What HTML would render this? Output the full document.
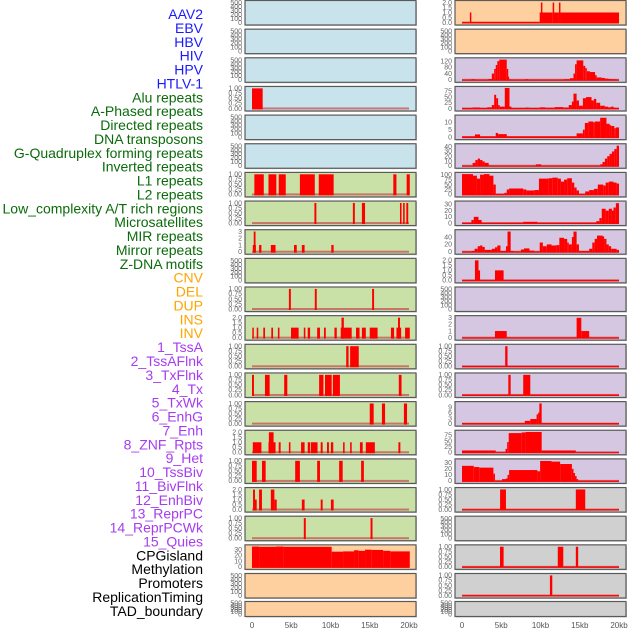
<!DOCTYPE html>
<html><head><meta charset="utf-8">
<style>
html,body{margin:0;padding:0;background:#fff;}
body{width:630px;height:630px;overflow:hidden;position:relative;font-family:"Liberation Sans",sans-serif;}
svg{position:absolute;left:0;top:0;}
</style></head>
<body>
<svg id="chart" width="630" height="630" viewBox="0 0 630 630"></svg>
<script>
// ---------- labels ----------
const labelNames = ["AAV2","EBV","HBV","HIV","HPV","HTLV-1","Alu repeats","A-Phased repeats","Directed repeats","DNA transposons","G-Quadruplex forming repeats","Inverted repeats","L1 repeats","L2 repeats","Low_complexity A/T rich regions","Microsatellites","MIR repeats","Mirror repeats","Z-DNA motifs","CNV","DEL","DUP","INS","INV","1_TssA","2_TssAFlnk","3_TxFlnk","4_Tx","5_TxWk","6_EnhG","7_Enh","8_ZNF_Rpts","9_Het","10_TssBiv","11_BivFlnk","12_EnhBiv","13_ReprPC","14_ReprPCWk","15_Quies","CPGisland","Methylation","Promoters","ReplicationTiming","TAD_boundary"];
const labelGroups = [0,0,0,0,0,0,1,1,1,1,1,1,1,1,1,1,1,1,1,2,2,2,2,2,3,3,3,3,3,3,3,3,3,3,3,3,3,3,3,4,4,4,4,4];
const xTickValues = [0,5,10,15,20];
const xTickLabels = ["0","5kb","10kb","15kb","20kb"];

// ---------- y tick sets ----------
const ticksEmpty = ["0","100","200","300","400","500"];
const ticksUnit = ["0.00","0.25","0.50","0.75","1.00"];
const ticksTwo = ["0.0","0.5","1.0","1.5","2.0"];

// ---------- left-column data: blocks [startKb, endKb, value] ----------
const leftAlu = [[0,1.36,1]];
const leftL1 = [[0.3,1.5,1],[2.1,3.1,1],[3.4,4.3,1],[6.1,8.0,1],[8.5,10.4,1],[18.0,18.4,1],[19.7,20.1,1]];
const leftLowComplexity = [[7.95,8.2,1],[12.85,13.1,1],[14.0,14.4,1],[18.85,19.05,1],[19.25,19.45,1],[19.66,19.9,1]];
const leftMicrosat = [[0.1,0.5,1],[0.22,0.45,3],[0.9,1.2,1],[2.4,3.0,1],[5.35,5.7,1],[6.35,6.7,1],[10.1,10.4,1]];
const leftZDNA = [[4.7,4.95,1],[8.0,8.25,1],[15.3,15.55,1]];
const leftCNV = [[0.04,0.21,1],[0.6,0.8,1],[1.44,1.66,1],[2.46,2.68,1],[3.3,3.5,1],[4.97,5.94,1],[6.6,6.8,1],[7.1,7.4,1],[8.3,8.66,1],[9.17,9.4,1],[10.5,10.8,1],[11.3,12.7,1],[13.25,13.7,1],[14.0,14.5,1],[15.0,16.0,1],[17.7,18.1,1],[18.4,19.0,1],[19.5,20.1,1],[11.4,11.7,2],[18.6,18.85,2]];
const leftDUP = [[12.0,12.3,1],[12.5,13.6,1]];
const leftINS = [[0,0.25,1],[1.65,2.25,1],[4.1,4.5,1],[8.55,9.1,1],[9.3,10.15,1],[10.3,11.2,1],[18.7,19.05,1]];
const leftINV = [[15.0,15.5,1],[16.55,16.95,1],[19.35,19.75,1]];
const leftTssA = [[0.1,1.2,1],[2.1,3.0,1],[3.4,3.65,1],[4.7,4.9,1],[6.25,6.7,1],[7.1,7.4,1],[7.5,8.35,1],[8.75,9.0,1],[9.55,9.8,1],[10.05,10.35,1],[11.6,11.8,1],[12.5,12.7,1],[13.75,14.1,1],[14.5,15.65,1],[18.65,18.9,1],[2.15,2.75,2]];
const leftTssAFlnk = [[0,0.6,1],[1.27,1.74,1],[5.5,6.1,1],[8.3,8.66,1],[11.1,11.55,1],[13.9,14.25,1]];
const leftTxFlnk = [[0.13,0.38,2],[0.38,0.6,1],[0.9,1.27,2],[2.4,2.85,2],[2.85,3.15,1],[6.35,6.7,1],[8.75,9.0,1],[10.05,10.4,1]];
const leftTx = [[6.6,6.85,1],[15.1,15.35,1]];
const leftCpG = [[0,0.9,35.5],[0.9,3.06,35],[3.06,4.0,35.5],[4.0,10.15,35],[10.15,11.6,26.5],[11.6,13.0,27],[13.0,13.55,29],[13.55,14.4,28],[14.4,15.25,30],[15.25,16.7,29.5],[16.7,17.6,28],[17.6,20.1,27]];

// ---------- right-column data: step functions [startKb, value] ----------
const rightAAV2 = [[0,0.05],[1.0,1],[1.15,0.05],[9.9,1],[10.05,2],[10.2,1],[11.55,2],[11.7,1],[12.35,2],[12.5,1],[20,0]];
const rightHIV = [[0,2],[1.2,4],[1.7,2],[3.35,5],[3.8,40],[4.1,70],[4.3,95],[4.5,120],[4.75,130],[5.7,70],[5.8,20],[6.0,3],[6.3,2],[8.0,4],[8.45,2],[13.0,4],[13.75,10],[14.2,40],[14.4,100],[14.6,125],[15.45,90],[15.7,75],[15.9,55],[16.3,50],[16.95,30],[17.15,15],[17.8,12],[18.2,8],[18.65,5],[19.05,4],[19.7,2],[20,0]];
const rightHPV = [[0,2],[1.3,4],[2.3,2],[3.2,5],[3.8,15],[4.1,60],[4.35,45],[4.6,15],[4.8,8],[5.45,90],[6.05,8],[6.3,2],[8.1,4],[8.5,2],[9.9,5],[10.6,3],[11.8,6],[12.9,4],[13.6,15],[14.0,30],[14.2,65],[14.6,35],[14.9,12],[15.4,45],[15.8,50],[16.5,35],[16.8,42],[17.1,25],[17.6,12],[18.2,8],[18.6,5],[19.0,8],[19.3,3],[19.7,2],[20,0]];
const rightDirected = [[0,0.5],[1.65,1.8],[2.3,0.5],[4.3,2.8],[4.6,2],[5.7,0.5],[14.6,2.5],[15.4,5],[15.65,9.5],[16.1,10.5],[16.7,10],[16.9,10.5],[17.6,13],[18.4,9],[18.8,8],[19.0,7.5],[19.4,6],[19.6,6.5],[20,0]];
const rightGQuad = [[0,0.5],[1.35,6],[1.7,12],[2.0,15],[2.3,12],[2.6,9],[2.9,6],[3.4,1],[3.6,0.5],[9.4,3],[10.1,0.5],[17.6,3],[17.9,8],[18.2,15],[18.5,20],[18.8,25],[19.1,30],[19.4,35],[19.7,42],[20,0]];
const rightL1 = [[0,103],[1.4,95],[1.9,80],[2.3,100],[2.8,103],[3.5,95],[4.0,50],[4.3,3],[5.4,8],[5.7,25],[6.0,30],[7.8,25],[8.2,20],[9.2,22],[9.8,80],[11.0,82],[11.5,85],[12.2,80],[12.6,65],[13.0,75],[13.4,82],[14.0,60],[14.3,35],[14.6,20],[14.9,3],[15.7,15],[16.2,22],[16.8,28],[17.3,50],[18.0,45],[18.3,60],[18.7,65],[19.3,60],[19.7,55],[20,0]];
const rightLowComplexity = [[0,0.5],[1.2,5],[1.5,10],[2.1,5],[2.5,0.5],[7.8,2],[9.6,0.5],[17.1,3],[17.5,8],[17.8,23],[18.3,20],[18.7,23],[19.1,20],[19.3,25],[19.6,32],[20,0]];
const rightMIR = [[0,1],[1.2,2],[1.6,8],[2.0,15],[2.3,17],[2.6,13],[2.9,5],[3.8,8],[4.2,12],[4.5,17],[4.9,2],[5.6,15],[5.8,55],[6.2,2],[6.6,1],[7.5,6],[7.9,9],[8.6,3],[9.2,1],[9.9,25],[10.3,15],[10.8,20],[11.4,17],[12.0,18],[12.4,38],[13.0,35],[13.4,25],[13.6,20],[14.0,40],[14.2,55],[14.6,20],[14.9,2],[16.2,8],[16.6,25],[16.9,35],[17.2,44],[17.9,42],[18.1,35],[18.4,20],[18.7,15],[19.0,8],[19.7,5],[20,0]];
const rightCNV = [[0,0.05],[1.65,2],[2.1,1],[2.3,0.05],[4.2,1],[5.3,0.05],[20,0]];
const rightDUP = [[0,0.05],[4.2,1],[5.7,0.05],[14.6,3],[15.2,1],[16.2,0.05],[20,0]];
const rightINS = [[0,0.02],[5.5,1],[5.8,0.02],[20,0]];
const rightINV = [[0,0.02],[5.9,1],[6.2,0.02],[7.8,1],[8.7,0.02],[20,0]];
const rightTssA = [[0,0.3],[8.0,1.5],[8.7,2.5],[9.5,5],[9.7,6],[9.85,11],[10.15,0.3],[20,0]];
const rightTssAFlnk = [[0,8],[4.3,0.5],[5.55,15],[5.75,45],[5.95,85],[7.6,88],[8.1,90],[10.15,8],[14.5,0.5],[20,0]];
const rightTxFlnk = [[0,25],[1.5,23],[2.2,22],[4.0,12],[4.2,0.5],[5.1,3],[5.6,4],[5.8,10],[6.0,18],[9.6,16],[9.95,33],[11.4,32],[12.5,28],[14.0,20],[14.2,13],[14.4,8],[14.6,3],[14.8,0.5],[20,0]];
const rightTx = [[0,0.02],[4.85,1],[5.6,0.02],[14.5,1],[15.7,0.02],[20,0]];
const rightEnhG = [[0,0.02],[4.84,1],[5.3,0.02],[12.2,1],[12.9,0.02],[14.5,1],[14.8,0.02],[20,0]];
const rightEnh = [[0,0.02],[11.2,1],[11.5,0.02],[20,0]];

const C = {blue:"#c8e3ec",green:"#c9e1a6",orange:"#ffd09f",purple:"#d5c6e2",gray:"#d0d0d0"};
// panel config: [bg, tickLabels, ymax, data, kind, name]
const leftPanels = [
 [C.blue,ticksEmpty,520,null,"",'aav2'],[C.blue,ticksEmpty,520,null,"",'ebv'],[C.blue,ticksEmpty,520,null,"",'hbv'],
 [C.blue,ticksUnit,1.02,leftAlu,"b",'alu'],[C.blue,ticksEmpty,520,null,"",'hpv'],[C.blue,ticksEmpty,520,null,"",'htlv'],
 [C.green,ticksUnit,1.02,leftL1,"b",'l1'],[C.green,ticksUnit,1.02,leftLowComplexity,"b",'low-complexity'],
 [C.green,["0","1","2","3"],3.05,leftMicrosat,"b",'microsatellites'],[C.green,ticksEmpty,520,null,"",'mirror'],
 [C.green,ticksUnit,1.02,leftZDNA,"b",'z-dna'],[C.green,ticksTwo,2.05,leftCNV,"b",'cnv'],
 [C.green,ticksUnit,1.02,leftDUP,"b",'dup'],[C.green,ticksUnit,1.02,leftINS,"b",'ins'],[C.green,ticksUnit,1.02,leftINV,"b",'inv'],
 [C.green,ticksTwo,2.05,leftTssA,"b",'tssa'],[C.green,ticksUnit,1.02,leftTssAFlnk,"b",'tssaflnk'],
 [C.green,ticksTwo,2.05,leftTxFlnk,"b",'txflnk'],[C.green,ticksUnit,1.02,leftTx,"b",'tx'],
 [C.orange,["0","10","20","30"],35.8,leftCpG,"b",'cpg'],[C.orange,ticksEmpty,520,null,"",'promoters'],[C.orange,ticksEmpty,520,null,"",'tad']
];
const rightPanels = [
 [C.orange,ticksTwo,2.05,rightAAV2,"s",'aav2'],[C.orange,ticksEmpty,520,null,"",'ebv'],
 [C.purple,["0","40","80","120"],132,rightHIV,"s",'hiv'],[C.purple,["0","25","50","75"],90,rightHPV,"s",'hpv'],
 [C.purple,["0","5","10"],13.8,rightDirected,"s",'directed'],[C.purple,["0","10","20","30","40"],43,rightGQuad,"s",'g-quad'],
 [C.purple,["0","25","50","75","100"],104,rightL1,"s",'l1'],[C.purple,["0","10","20","30"],33,rightLowComplexity,"s",'low-complexity'],
 [C.purple,["0","20","40"],56,rightMIR,"s",'mir'],[C.purple,ticksTwo,2.05,rightCNV,"s",'cnv'],
 [C.purple,ticksEmpty,520,null,"",'del'],[C.purple,["0","1","2","3"],3.1,rightDUP,"s",'dup'],
 [C.purple,ticksUnit,1.02,rightINS,"s",'ins'],[C.purple,ticksUnit,1.02,rightINV,"s",'inv'],
 [C.purple,["0","3","6","9"],11.2,rightTssA,"s",'tssa'],[C.purple,["0","25","50","75"],91,rightTssAFlnk,"s",'tssaflnk'],
 [C.purple,["0","10","20","30"],34,rightTxFlnk,"s",'txflnk'],[C.gray,ticksUnit,1.02,rightTx,"s",'tx'],
 [C.gray,ticksEmpty,520,null,"",'txwk'],[C.gray,ticksUnit,1.02,rightEnhG,"s",'enhg'],
 [C.gray,ticksUnit,1.02,rightEnh,"s",'enh'],[C.gray,ticksEmpty,520,null,"",'tad']
];

const svg = document.getElementById('chart');
const NS = "http://www.w3.org/2000/svg";
function mk(tag, attrs, parent){const e=document.createElementNS(NS,tag);for(const k in attrs)e.setAttribute(k,attrs[k]);(parent||svg).appendChild(e);return e;}

// labels
const labelColors = ["#1a1aff","#0b6b0b","#ffa500","#a63cf0","#000000"];
labelNames.forEach((t,i)=>{
  const e = mk('text',{x:203,y:14+i*13.88+5,'text-anchor':'end','font-size':'14px','font-family':'"Liberation Sans",sans-serif',fill:labelColors[labelGroups[i]]});
  
  
  e.textContent = t;
});

function rowGeom(i){ if(i<21) return {y:0.5+i*28.65,h:24.5}; return {y:601.5,h:15}; }

function drawPanel(p, i, px, side){
  const [bg,ticks,ymax,data,kind,name] = p;
  const g = rowGeom(i);
  const W = 171;
  const x0 = px+7, x1 = px+164; // 0kb and 20kb
  const xs = kb => x0 + (x1-x0)*kb/20;
  const yb = g.y+g.h-2.5, yt = g.y+1.5;
  const ys = v => yb - (yb-yt)*v/ymax;
  const grp = mk('g',{});
  
  
  mk('rect',{x:px+1,y:g.y+1,width:W,height:g.h,fill:'#999',opacity:0.5},grp);
  const r = mk('rect',{x:px,y:g.y,width:W,height:g.h,fill:bg,stroke:'#5a5a5a','stroke-width':1.2},grp);
  // y ticks
  ticks.forEach((t,k)=>{
    const v = kind==="" ? k*100 : parseFloat(t);
    const tx = mk('text',{x:px-3,y:ys(v)+2.3,'text-anchor':'end','font-size':'7px','font-family':'"Liberation Sans",sans-serif',fill:'#666'},grp);
    
    
    tx.textContent = t;
  });
  if(!data) return;
  // baseline
  mk('rect',{x:xs(0),y:yb-1,width:xs(20)-xs(0),height:2,fill:'#c85a5a',opacity:0.8},grp);
  let blocks = [];
  if(kind==="b"){ blocks = data; }
  else { for(let k=0;k<data.length-1;k++) blocks.push([data[k][0],data[k+1][0],data[k][1]]); }
  blocks.forEach(b=>{
    const xa = xs(b[0]), xb = xs(b[1]);
    const w = Math.max(1.5, xb-xa);
    const y = ys(b[2]);
    const bar = mk('rect',{x:xa,y:y,width:w,height:Math.max(0,yb+1-y),fill:'#ff0000'},grp);
    
    
  });
}
leftPanels.forEach((p,i)=>drawPanel(p,i,245,'left'));
rightPanels.forEach((p,i)=>drawPanel(p,i,455,'right'));

// x ticks
[245,455].forEach(px=>{
  xTickValues.forEach((v,k)=>{
    const t = mk('text',{x:px+7+157*v/20,y:628,'text-anchor':'middle','font-size':'8px','font-family':'"Liberation Sans",sans-serif',fill:'#555'});
    
    
    t.textContent = xTickLabels[k];
  });
});
</script>
</body></html>
